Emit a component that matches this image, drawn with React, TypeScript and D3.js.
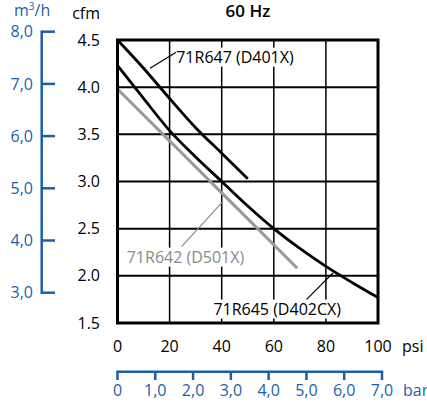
import React, { useRef, useEffect } from 'react';
import * as d3 from 'd3';

const psiTicks = [0, 20, 40, 60, 80, 100];
const cfmTicks = [1.5, 2.0, 2.5, 3.0, 3.5, 4.0, 4.5];
const m3hTicks = [3, 4, 5, 6, 7, 8];
const barTicks = [0, 1, 2, 3, 4, 5, 6, 7];

// 71R647 (D401X)
const psiD401X = [0, 10, 20, 30, 40, 50];
const cfmD401X = [4.5, 4.2, 3.88, 3.57, 3.3, 3.03];
// 71R645 (D402CX)
const psiD402CX = [0, 10, 20, 30, 40, 50, 60, 70, 80, 90, 100];
const cfmD402CX = [4.23, 3.88, 3.54, 3.26, 3.0, 2.74, 2.5, 2.29, 2.1, 1.93, 1.77];
// 71R642 (D501X)
const psiD501X = [0, 20, 40, 60, 69];
const cfmD501X = [3.98, 3.43, 2.88, 2.33, 2.08];

const BLUE = '#1b5fab';
const GRAY = '#999999';
const GRAY_TEXT = '#8a8a8a';
const FONT = '"Open Sans", sans-serif';
const PSI_PER_BAR = 14.5038;
const FS = '16px';

const App: React.FC = () => {
  const svgRef = useRef<SVGSVGElement>(null);

  useEffect(() => {
    if (!svgRef.current) return;
    const svg = d3.select(svgRef.current);
    svg.selectAll('*').remove();

    const x = d3.scaleLinear().domain([0, 100]).range([117.5, 378]);
    const y = d3.scaleLinear().domain([1.5, 4.5]).range([323, 40]);
    const yM = d3.scaleLinear().domain([3, 8]).range([292.7, 31.7]);
    const xBar = (b: number) => x(b * PSI_PER_BAR);

    const g = svg.append('g').attr('font-family', FONT);

    // Title
    g.append('text')
      .attr('x', 248).attr('y', 17)
      .attr('text-anchor', 'middle')
      .attr('font-size', '17px').attr('font-weight', 600)
      .text('60 Hz');

    // Grid
    g.append('g').selectAll('line')
      .data(cfmTicks.slice(1, -1))
      .enter().append('line')
      .attr('x1', x(0)).attr('x2', x(100))
      .attr('y1', d => y(d)).attr('y2', d => y(d))
      .attr('stroke', '#000').attr('stroke-width', 2);

    g.append('g').selectAll('line')
      .data(psiTicks.slice(1, -1))
      .enter().append('line')
      .attr('x1', d => x(d)).attr('x2', d => x(d))
      .attr('y1', y(1.5)).attr('y2', y(4.5))
      .attr('stroke', '#000').attr('stroke-width', 1.5);

    // Curves
    const line = d3.line<[number, number]>()
      .x(d => x(d[0])).y(d => y(d[1]))
      .curve(d3.curveMonotoneX);

    const drawCurve = (px: number[], py: number[], color: string, w: number) => {
      g.append('path')
        .datum(px.map((p, i) => [p, py[i]] as [number, number]))
        .attr('d', line)
        .attr('fill', 'none')
        .attr('stroke', color)
        .attr('stroke-width', w);
    };
    drawCurve(psiD501X, cfmD501X, GRAY, 3);
    drawCurve(psiD402CX, cfmD402CX, '#000', 2.8);
    drawCurve(psiD401X, cfmD401X, '#000', 2.8);

    // Labels with white backing and leader lines
    const drawLabel = (label: string, lx: number, ly: number, color: string,
      from: [number, number], to: [number, number]) => {
      const lg = g.append('g');
      const bg = lg.append('rect').attr('fill', '#fff');
      const t = lg.append('text')
        .attr('x', x(lx)).attr('y', y(ly))
        .attr('text-anchor', 'middle')
        .attr('font-size', FS)
        .attr('fill', color)
        .text(label);
      const bb = (t.node() as SVGTextElement).getBBox();
      bg.attr('x', bb.x - 1).attr('y', bb.y + 2).attr('width', bb.width + 2).attr('height', bb.height - 3);
      lg.append('line')
        .attr('x1', x(from[0])).attr('y1', y(from[1]))
        .attr('x2', x(to[0])).attr('y2', y(to[1]))
        .attr('stroke', color).attr('stroke-width', 1.2);
    };
    drawLabel('71R647 (D401X)', 45.1, 4.26, '#000', [12.5, 4.2], [22.5, 4.37]);
    drawLabel('71R642 (D501X)', 26.1, 2.14, GRAY_TEXT, [24.6, 2.31], [40.5, 2.79]);
    drawLabel('71R645 (D402CX)', 61.3, 1.59, '#000', [72.6, 1.75], [82.7, 2.03]);

    // Frame
    g.append('rect')
      .attr('x', x(0)).attr('y', y(4.5))
      .attr('width', x(100) - x(0)).attr('height', y(1.5) - y(4.5))
      .attr('fill', 'none').attr('stroke', '#000').attr('stroke-width', 3);

    // cfm axis labels
    g.append('g').selectAll('text')
      .data(cfmTicks)
      .enter().append('text')
      .attr('x', 100).attr('y', d => y(d))
      .attr('dy', '0.35em')
      .attr('text-anchor', 'end')
      .attr('font-size', FS)
      .text(d => d3.format('.1f')(d));
    g.append('text')
      .attr('x', 100).attr('y', 19)
      .attr('text-anchor', 'end')
      .attr('font-size', FS)
      .text('cfm');

    // psi axis labels
    g.append('g').selectAll('text')
      .data(psiTicks)
      .enter().append('text')
      .attr('x', d => x(d)).attr('y', 346)
      .attr('dy', '0.35em')
      .attr('text-anchor', 'middle')
      .attr('font-size', FS)
      .text(d => String(d));
    g.append('text')
      .attr('x', 402).attr('y', 346)
      .attr('dy', '0.35em')
      .attr('font-size', FS)
      .text('psi');

    // m3/h axis (blue)
    const mg = g.append('g').attr('fill', BLUE);
    mg.append('line')
      .attr('x1', 41.7).attr('x2', 41.7)
      .attr('y1', yM(8) - 1.2).attr('y2', yM(3) + 1.2)
      .attr('stroke', BLUE).attr('stroke-width', 2.5);
    mg.selectAll('line.tick')
      .data(m3hTicks)
      .enter().append('line')
      .attr('class', 'tick')
      .attr('x1', 41.7).attr('x2', 55)
      .attr('y1', d => yM(d)).attr('y2', d => yM(d))
      .attr('stroke', BLUE).attr('stroke-width', 2.5);
    mg.selectAll('text.lbl')
      .data(m3hTicks)
      .enter().append('text')
      .attr('class', 'lbl')
      .attr('x', 33).attr('y', d => yM(d))
      .attr('dy', '0.35em')
      .attr('text-anchor', 'end')
      .attr('font-size', FS)
      .text(d => d3.format('.1f')(d).replace('.', ','));
    const unit = mg.append('text')
      .attr('x', 14).attr('y', 16)
      .attr('font-size', FS);
    unit.append('tspan').text('m');
    unit.append('tspan').attr('dy', -6).attr('font-size', '10px').text('3');
    unit.append('tspan').attr('dy', 6).text('/h');

    // bar axis (blue)
    const bg = g.append('g').attr('fill', BLUE);
    bg.append('line')
      .attr('x1', xBar(0) - 1.2).attr('x2', xBar(7) + 1.2)
      .attr('y1', 371.7).attr('y2', 371.7)
      .attr('stroke', BLUE).attr('stroke-width', 2.5);
    bg.selectAll('line.tick')
      .data(barTicks)
      .enter().append('line')
      .attr('class', 'tick')
      .attr('x1', d => xBar(d)).attr('x2', d => xBar(d))
      .attr('y1', 371.7).attr('y2', 380)
      .attr('stroke', BLUE).attr('stroke-width', 2.5);
    bg.selectAll('text.lbl')
      .data(barTicks)
      .enter().append('text')
      .attr('class', 'lbl')
      .attr('x', d => xBar(d)).attr('y', 390)
      .attr('dy', '0.35em')
      .attr('text-anchor', 'middle')
      .attr('font-size', FS)
      .text(d => d === 0 ? '0' : d3.format('.1f')(d).replace('.', ','));
    bg.append('text')
      .attr('x', 403).attr('y', 390)
      .attr('dy', '0.35em')
      .attr('font-size', FS)
      .text('bar');
  }, []);

  return (
    <svg ref={svgRef} width={427} height={406}
      style={{ position: 'absolute', left: 0, top: 0, background: '#fff' }} />
  );
};

export default App;
